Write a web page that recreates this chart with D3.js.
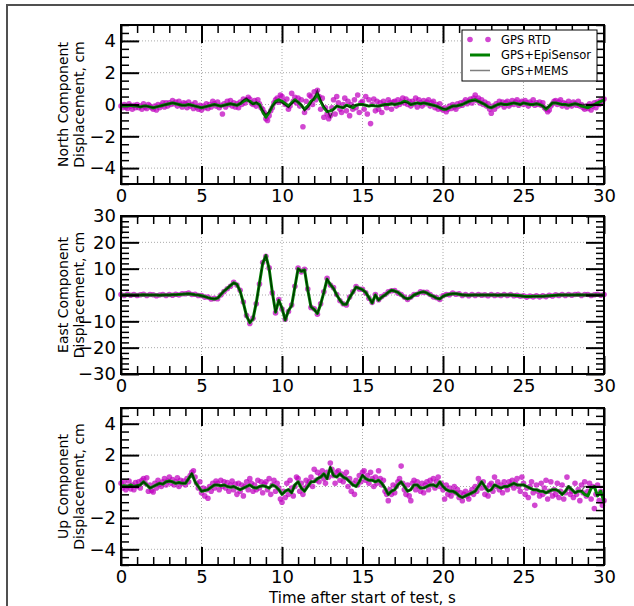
<!DOCTYPE html>
<html>
<head>
<meta charset="utf-8">
<script src="https://cdn.jsdelivr.net/npm/d3@7"></script>
<style>
  body { margin: 0; background: #fff; }
  svg text { font-family: 'DejaVu Sans', sans-serif; fill: #000; }
</style>
</head>
<body>
<div id="chart"></div>
<script>
/// data //////////////////////////////////
// lines sampled every 0.2 s, RTD dots every 0.1 s (north, up) or 0.2 s (east)
const northEpi = [
  -0.1,-0.1,-0.1,-0.05,-0.1, -0.1,-0.15,-0.1,-0.1,-0.15, -0.2,-0.15,-0.1,-0.05,0.0,
  0.05,0.1,0.05,0.0,-0.05, -0.05,0.0,-0.05,-0.1,-0.15, -0.2,-0.15,-0.1,-0.05,0.0,
  -0.05,-0.1,-0.05,0.0,0.05, 0.0,-0.05,0.05,0.2,0.3, 0.2,0.05,0.1,0.0,-0.45,
  -0.8,-0.5,-0.1,0.2,0.3, 0.2,0.05,-0.1,0.1,0.3, 0.15,-0.05,-0.3,-0.1,0.2,
  0.35,0.65,0.2,-0.2,-0.45, -0.4,-0.3,-0.1,-0.15,-0.2, -0.05,-0.1,-0.2,-0.05,0.0,
  0.0,-0.05,-0.1,-0.05,-0.1, -0.1,-0.05,0.0,0.0,0.05, 0.0,0.05,0.1,0.2,0.15,
  0.0,0.05,0.1,0.05,0.1, 0.05,0.0,-0.05,-0.1,-0.2, -0.3,-0.3,-0.2,-0.1,-0.1,
  -0.05,0.0,0.1,0.2,0.25, 0.3,0.2,0.1,0.0,-0.15, -0.2,-0.1,0.0,0.05,0.0,
  0.0,0.05,0.1,0.05,0.0, 0.1,0.05,0.0,0.0,0.05, 0.0,-0.1,-0.3,-0.1,0.1,
  0.1,0.05,0.0,0.0,-0.05, 0.0,0.05,0.0,-0.1,-0.15, -0.2,-0.1,0.0,0.1,0.2,
  0.3
]
const northMems = [
  0,0,0,0,-0.05, -0.1,-0.15,-0.1,-0.1,-0.15, -0.2,-0.15,-0.1,-0.05,0.0,
  0.05,0.1,0.05,0.0,-0.05, -0.05,0.0,-0.05,-0.1,-0.15, -0.2,-0.15,-0.1,-0.05,0.0,
  -0.05,-0.1,-0.05,0.0,0.05, 0.0,-0.05,0.05,0.3,0.4, 0.15,0.0,0.15,-0.05,-0.35,
  -0.6,-0.45,-0.1,0.1,0.15, 0.1,-0.05,-0.2,0.05,0.25, 0.15,0.0,-0.4,-0.2,0.05,
  0.45,0.9,0.3,-0.1,-0.35, -0.8,-0.3,-0.1,-0.15,-0.2, -0.05,-0.2,0.0,-0.05,0.0,
  0.0,-0.05,-0.1,-0.05,-0.1, -0.1,-0.05,0.0,0.0,0.05, 0.0,0.05,0.1,0.15,0.1,
  0.0,0.05,0.1,0.05,0.1, 0.05,0.0,-0.05,-0.1,-0.2, -0.25,-0.3,-0.2,-0.1,-0.1,
  -0.05,0.0,0.1,0.2,0.25, 0.25,0.2,0.1,0.0,-0.15, -0.2,-0.1,0.0,0.05,0.0,
  0.0,0.05,0.1,0.05,0.0, 0.1,0.05,0.0,0.0,0.05, 0.0,-0.1,-0.25,-0.1,0.1,
  0.1,0.05,0.0,0.0,-0.05, 0.0,0.05,0.0,0.0,0.0, 0,0,0,0,0,
  0
]
const northRtd = [
  -0.1,-0.2,0.0,-0.15,-0.25,0.05,-0.1,-0.3,-0.05,-0.2,
  0.0,-0.2,-0.1,-0.3,0.05,-0.15,-0.25,0.0,-0.1,-0.2,
  -0.3,-0.1,-0.35,0.0,-0.2,-0.05,0.1,-0.15,0.1,-0.1,
  0.1,0.0,0.25,0.05,0.15,-0.1,0.2,0.0,-0.15,0.1,
  0.05,-0.2,0.15,-0.1,0.0,-0.25,0.1,-0.15,-0.3,-0.05,
  -0.35,-0.1,-0.2,0.05,-0.25,0.0,-0.15,0.2,0.05,-0.1,
  0.15,-0.2,-0.05,-0.6,0.05,-0.15,0.2,0.0,0.25,-0.1,
  0.1,-0.15,0.05,-0.2,0.15,0.0,0.35,0.1,0.3,0.45,
  0.35,0.1,0.0,0.25,-0.1,0.3,0.05,-0.2,-0.3,-0.5,
  -0.9,-1.0,-0.7,-0.4,-0.2,0.1,0.3,0.4,0.15,0.6,
  0.5,0.2,0.0,0.35,-0.3,-0.1,0.7,0.2,0.45,0.1,
  0.4,-0.1,0.3,-1.4,-0.5,0.2,-0.2,0.6,0.5,0.0,
  0.8,0.3,0.9,0.5,-0.3,0.4,-0.8,-0.2,-0.6,-0.9,
  -0.7,-0.2,0.3,-0.6,0.5,0.1,-0.3,-0.5,0.0,0.4,
  -0.4,0.2,-0.7,0.0,-0.3,0.3,-0.2,0.6,-0.5,0.1,
  0.2,-0.3,0.5,-0.6,0.3,-1.2,0.0,0.35,-0.4,0.2,
  -0.3,0.1,-0.5,0.2,0.0,-0.2,0.3,0.1,-0.3,0.15,
  0.2,-0.1,0.3,0.0,0.15,0.4,0.1,0.35,0.0,0.2,
  -0.1,0.2,0.05,0.4,-0.15,0.3,0.1,-0.1,0.25,0.05,
  0.15,0.3,-0.1,0.1,0.2,-0.2,0.0,-0.3,0.05,-0.25,
  -0.35,-0.2,-0.45,-0.3,-0.1,-0.25,0.0,-0.15,-0.3,0.05,
  -0.1,0.1,-0.05,0.15,0.3,0.05,0.2,0.35,0.1,0.4,
  0.6,0.25,0.4,0.1,0.3,0.0,0.15,-0.1,0.05,-0.3,
  -0.55,-0.1,-0.3,0.05,-0.1,0.2,0.0,0.15,-0.15,0.1,
  0.2,-0.1,0.05,0.25,0.0,0.15,0.3,-0.05,0.1,0.2,
  0.0,0.25,0.1,-0.1,0.15,0.05,0.3,-0.05,0.1,0.0,
  0.15,-0.05,0.1,-0.2,-0.3,-0.45,-0.35,-0.1,0.05,0.2,
  0.25,0.0,0.15,0.3,-0.1,0.1,0.05,-0.15,0.2,0.0,
  -0.1,0.15,0.05,-0.05,0.2,-0.1,0.0,-0.2,-0.3,-0.1,
  -0.25,0.05,-0.35,-0.1,0.1,-0.2,0.15,0.0,0.25,0.1,
  0.35
]

const eastEpi = [
  0,0,0.1,0,0, 0,0,0.1,0,0, 0,0,-0.1,0,0,
  0,0.1,0.1,0.2,0.3, 0.4,0.5,0.3,0.1,0, -0.3,-0.6,-1.0,-1.3,-1.5,
  -1.2,0.2,1.5,2.5,3.6, 4.6,4.0,1.5,-3.0,-8.0, -10.5,-9.0,-3.0,4.5,12.0,
  15.0,10.0,1.0,-6.5,-2.0, -5.0,-9.5,-6.0,-4.0,3.0, 10.0,9.0,9.5,2.0,-4.5,
  -5.5,-7.0,-3.5,1.0,6.0, 4.0,2.5,0.0,-2.0,-3.5, -3.5,-1.0,1.0,3.0,2.5,
  2.0,1.0,-1.0,-3.0,0.0, -2.0,-0.8,0.0,1.0,1.8, 1.5,1.0,0.0,-1.0,-1.5,
  -1.0,0.0,0.5,1.0,1.2, 0.8,0.0,-0.5,-1.2,-1.5, -0.5,0.0,0.3,0.5,0.5,
  0.3,0.0,0.0,-0.1,0.0, 0,0,0,0,0, 0,0,-0.1,0,0,
  0,0,-0.1,-0.2,-0.3, -0.5,-0.6,-0.6,-0.5,-0.5, -0.5,-0.5,-0.4,-0.3,-0.2,
  -0.1,0,0,0,0, 0,0,0.1,0,0, 0,0,0,0,0,
  0
]
const eastMems = [
  0,0,0.1,0,0, 0,0,0.1,0,0, 0,0,-0.1,0,0,
  0,0.1,0.1,0.2,0.3, 0.4,0.5,0.3,0.1,0, -0.3,-0.6,-1.0,-1.3,-1.5,
  -1.2,0.2,1.5,2.5,3.7, 4.6,4.0,1.4,-3.1,-8.0, -10.4,-9.0,-3.0,4.4,12.1,
  14.9,10.0,1.0,-6.6,-2.0, -5.1,-9.4,-6.0,-4.0,3.1, 10.0,9.0,9.4,2.0,-4.5,
  -5.5,-7.0,-3.4,1.0,6.1, 4.0,2.5,0.0,-2.0,-3.5, -3.5,-1.0,1.0,3.0,2.5,
  2.0,1.0,-1.0,-3.0,0.0, -2.0,-0.8,0.0,1.0,1.8, 1.5,1.0,0.0,-1.0,-1.5,
  -1.0,0.0,0.5,1.0,1.2, 0.8,0.0,-0.5,-1.2,-1.5, -0.5,0.0,0.3,0.5,0.5,
  0.3,0.0,0.0,-0.1,0.0, 0,0,0,0,0, 0,0,-0.1,0,0,
  0,0,-0.1,-0.2,-0.3, -0.5,-0.6,-0.6,-0.5,-0.5, -0.5,-0.5,-0.4,-0.3,-0.2,
  -0.1,0,0,0,0, 0,0,0.1,0,0, 0,0,0,0,0,
  0
]
const eastRtd = [
  0.2,-0.2,0.3,-0.1,0.2, -0.2,0.1,0.3,-0.2,0.2, 0.1,-0.3,0.0,0.2,-0.2,
  0.2,-0.1,0.3,0.0,0.5, 0.5,0.7,0.2,0.3,-0.2, -0.2,-0.8,-0.8,-1.5,-1.3,
  -1.4,0.0,1.3,2.4,3.3, 4.8,3.8,1.8,-2.7,-7.8, -10.8,-8.8,-3.3,4.2,12.3,
  14.7,10.3,0.8,-6.8,-1.7, -5.3,-9.2,-6.3,-3.8,3.3, 10.2,8.8,9.8,2.3,-4.7,
  -5.2,-7.3,-3.3,1.2,6.3, 3.8,2.8,0.2,-2.2,-3.3, -3.8,-0.8,1.2,3.2,2.3,
  2.2,0.8,-1.2,-2.8,0.2, -1.8,-0.6,0.2,1.2,1.6, 1.7,0.8,0.2,-0.8,-1.7,
  -0.8,0.2,0.3,1.2,1.0, 1.0,0.2,-0.7,-1.0,-1.7, -0.3,0.2,0.1,0.7,0.3,
  0.5,-0.2,0.2,-0.3,0.2, -0.2,0.2,-0.1,0.1,-0.3, 0.2,-0.2,0.1,-0.2,0.2,
  -0.2,0.2,-0.3,-0.1,-0.5, -0.3,-0.8,-0.4,-0.7,-0.3, -0.7,-0.3,-0.6,-0.1,-0.4,
  0.1,-0.2,0.2,-0.2,0.2, -0.1,0.2,0.3,-0.2,0.2, 0.2,-0.2,0.1,0.3,-0.1,
  0.2
]

const upEpi = [
  0.0,0.05,0.0,0.1,0.0, 0.05,0.1,0.3,0.1,-0.1, 0.0,0.1,0.2,0.15,0.3,
  0.35,0.3,0.2,0.25,0.2, 0.2,0.5,0.8,0.3,0.0, -0.3,-0.25,-0.2,-0.05,0.1,
  0.1,0.05,0.1,0.0,-0.05, 0.0,-0.1,-0.2,-0.1,0.0, 0.1,-0.05,-0.1,0.0,0.05,
  0.0,-0.1,0.1,0.0,-0.2, -0.5,-0.3,-0.2,-0.4,0.1, 0.3,-0.1,-0.3,0.0,0.3,
  0.3,0.5,0.6,0.8,0.5, 1.2,0.7,0.6,0.8,0.6, 0.5,0.3,0.1,0.0,0.3,
  0.7,0.5,0.4,0.4,0.3, 0.4,0.2,-0.1,-0.5,-0.3, -0.2,0.1,0.3,0.0,-0.3,
  -0.2,0.1,0.1,-0.1,-0.1, 0.0,0.1,0.1,0.0,0.3, 0.0,-0.2,-0.3,-0.3,-0.4,
  -0.6,-0.7,-0.6,-0.5,-0.4, -0.3,0.0,0.3,0.0,-0.3, -0.2,0.1,0.0,-0.1,0.0,
  0.0,0.1,0.2,0.1,0.1, 0.1,0.0,-0.1,-0.2,-0.2, -0.3,-0.3,-0.4,-0.3,-0.2,
  -0.2,-0.3,-0.5,-0.3,0.0, -0.2,-0.4,-0.3,-0.3,-0.5, -0.6,-0.1,0.0,-0.6,-0.3,
  -1.0
]
const upMems = [
  0.0,0.0,0.0,0.05,0.0, 0.05,0.1,0.3,0.1,-0.1, 0.0,0.1,0.2,0.15,0.3,
  0.35,0.3,0.2,0.25,0.2, 0.2,0.5,0.85,0.3,0.0, -0.3,-0.25,-0.2,-0.05,0.1,
  0.1,0.05,0.1,0.0,-0.05, 0.0,-0.1,-0.2,-0.1,0.0, 0.1,-0.05,-0.1,0.0,0.05,
  0.0,-0.1,0.1,0.0,-0.2, -0.5,-0.3,-0.2,-0.4,0.1, 0.3,-0.1,-0.3,0.0,0.3,
  0.3,0.5,0.6,0.8,0.5, 1.25,0.7,0.6,0.8,0.6, 0.5,0.3,0.1,0.0,0.3,
  0.75,0.5,0.4,0.4,0.3, 0.4,0.2,-0.1,-0.5,-0.3, -0.2,0.1,0.3,0.0,-0.3,
  -0.2,0.1,0.1,-0.1,-0.1, 0.0,0.1,0.1,0.0,0.3, 0.0,-0.2,-0.3,-0.3,-0.4,
  -0.6,-0.7,-0.6,-0.5,-0.4, -0.3,0.0,0.3,0.0,-0.3, -0.2,0.1,0.0,-0.1,0.0,
  0.0,0.1,0.2,0.1,0.1, 0.1,0.0,-0.1,-0.2,-0.2, -0.3,-0.3,-0.4,-0.3,-0.2,
  -0.2,-0.3,-0.5,-0.3,0.0, -0.2,-0.4,-0.3,-0.3,0.0, 0,0,0,0,0,
  0
]
const upRtd = [
  0.2,-0.1,0.3,-0.2,0.0,0.35,-0.15,0.1,-0.2,0.25,
  0.0,0.3,-0.1,0.4,0.5,0.2,0.55,-0.3,0.1,-0.25,
  -0.35,0.2,-0.1,0.4,0.15,0.0,0.3,0.5,0.1,0.35,
  0.6,0.2,0.45,0.1,0.3,0.55,0.0,0.4,0.2,0.35,
  0.1,0.5,0.3,0.7,0.9,1.0,0.6,0.2,-0.1,0.3,
  -0.4,-0.1,-0.6,-0.2,-0.75,0.0,-0.3,0.2,-0.1,0.35,
  0.2,-0.2,0.4,0.0,0.3,-0.1,0.25,-0.3,0.1,0.35,
  -0.2,0.15,-0.5,0.2,-0.3,0.1,-0.6,0.0,0.3,-0.2,
  0.5,0.2,-0.3,0.1,-0.2,0.4,-0.1,0.3,-0.4,0.15,
  0.3,-0.2,0.5,-0.5,0.1,0.4,-0.3,0.2,-0.1,-0.8,
  -1.0,-0.3,-0.7,0.2,-0.5,0.4,-0.1,-0.6,0.0,0.6,
  0.5,-0.3,0.2,-0.5,-0.1,0.4,0.1,0.3,0.6,0.0,
  1.1,0.4,0.9,0.3,0.7,1.0,0.5,0.2,0.9,0.6,
  1.5,1.1,0.7,0.2,0.9,1.0,0.4,0.8,0.3,0.6,
  0.9,0.0,0.5,-0.3,0.2,-0.5,0.4,0.1,0.7,0.3,
  0.9,1.0,0.4,0.7,0.2,0.9,0.5,0.0,0.6,0.2,
  1.0,0.5,0.1,0.4,-0.3,-0.5,-0.9,-0.2,-0.5,0.1,
  -0.4,0.0,0.3,0.5,1.3,0.2,-0.2,-0.5,0.1,-0.6,
  -0.9,0.2,0.4,-0.2,0.3,0.0,-0.3,0.2,-0.4,0.1,
  0.3,-0.2,0.4,0.1,0.5,-0.1,0.3,0.6,0.0,0.2,
  -0.2,-0.8,0.1,-0.5,-0.1,-0.6,-0.3,0.0,-0.4,-0.2,
  -0.7,-0.4,-0.9,-0.5,-0.3,-0.6,-0.8,-0.4,-0.2,-0.5,
  0.0,-0.3,0.5,0.2,-0.1,0.3,-0.5,-0.1,-0.6,0.1,
  0.2,-0.3,0.6,0.0,0.3,-0.2,0.1,-0.4,0.3,0.0,
  -0.2,0.3,0.1,0.4,-0.1,0.2,0.5,0.0,-0.3,0.6,
  0.2,-0.5,-0.1,-0.7,0.0,0.3,-0.4,-1.2,0.1,-0.3,
  -0.6,0.2,-0.5,-0.1,0.4,-0.8,-0.3,0.3,-0.6,-0.2,
  -0.5,0.2,-0.7,-0.3,0.1,-0.8,-0.4,0.6,-0.1,-0.5,
  -0.3,-0.7,0.2,-0.5,-0.2,-0.9,0.1,-0.4,0.3,-0.6,
  -0.3,0.2,-0.8,0.0,-1.4,-0.5,0.1,-0.9,-0.3,-1.2,
  -0.9
]

/// ticks and labels //////////////////////////////////
const xTicks = [0, 5, 10, 15, 20, 25, 30]
const smallYTicks = [-4, -2, 0, 2, 4]
const eastYTicks = [-30, -20, -10, 0, 10, 20, 30]
const legendLabels = ['GPS RTD', 'GPS+EpiSensor', 'GPS+MEMS']
const xLabel = 'Time after start of test, s'

/// colours //////////////////////////////////
const rtdColor = '#bf00bf'
const epiColor = '#008000'
const memsColor = '#000000'

const width = 634
const height = 606
const left = 121
const right = 604

const panels = [
  { lines: ['North Component', 'Displacement, cm'], top: 25, bottom: 184, domain: [-5, 5], ticks: smallYTicks, minor: 0.5, rtd: northRtd, rtdStep: 0.1, epi: northEpi, mems: northMems, legend: true },
  { lines: ['East Component', 'Displacement, cm'], top: 216, bottom: 374, domain: [-30, 30], ticks: eastYTicks, minor: 2, rtd: eastRtd, rtdStep: 0.2, epi: eastEpi, mems: eastMems },
  { lines: ['Up Component', 'Displacement, cm'], top: 408, bottom: 565, domain: [-5, 5], ticks: smallYTicks, minor: 0.5, rtd: upRtd, rtdStep: 0.1, epi: upEpi, mems: upMems }
]

const svg = d3
  .select('#chart')
  .append('svg')
  .attr('width', width)
  .attr('height', height)

// outer figure frame
svg
  .append('rect')
  .attr('x', 7)
  .attr('y', 5)
  .attr('width', 700)
  .attr('height', 700)
  .attr('fill', 'none')
  .attr('stroke', '#505050')
  .attr('stroke-width', 2)

const xScale = d3.scaleLinear().domain([0, 30]).range([left, right])
const xMinor = d3.range(0, 30.001, 1).filter(d => d % 5 !== 0)

panels.forEach(p => {
  const yScale = d3.scaleLinear().domain(p.domain).range([p.bottom, p.top])
  const yMinor = d3
    .range(p.domain[0], p.domain[1] + 0.001, p.minor)
    .filter(d => !p.ticks.includes(d))
  const g = svg.append('g')

  /// grid //////
  g.append('g')
    .selectAll('line')
    .data(xTicks.slice(1, -1))
    .enter()
    .append('line')
    .attr('x1', d => xScale(d))
    .attr('x2', d => xScale(d))
    .attr('y1', p.top)
    .attr('y2', p.bottom)
  g.append('g')
    .selectAll('line')
    .data(p.ticks.filter(d => d > p.domain[0] && d < p.domain[1]))
    .enter()
    .append('line')
    .attr('x1', left)
    .attr('x2', right)
    .attr('y1', d => yScale(d))
    .attr('y2', d => yScale(d))
  g.selectAll('g line')
    .attr('stroke', '#aaaaaa')
    .attr('stroke-width', 1)
    .attr('stroke-dasharray', '1,2')

  /// data //////
  const rtdPts = p.rtd.map((v, i) => ({ t: i * p.rtdStep, v: v }))
  g.append('g')
    .selectAll('circle')
    .data(rtdPts)
    .enter()
    .append('circle')
    .attr('cx', d => xScale(d.t))
    .attr('cy', d => yScale(d.v))
    .attr('r', 2.8)
    .attr('fill', rtdColor)
    .attr('opacity', 0.72)

  const line = d3
    .line()
    .x((d, i) => xScale(i * 0.2))
    .y(d => yScale(d))

  g.append('path')
    .datum(p.epi)
    .attr('d', line)
    .attr('fill', 'none')
    .attr('stroke', epiColor)
    .attr('stroke-width', 3)
    .attr('stroke-linejoin', 'round')

  g.append('path')
    .datum(p.mems)
    .attr('d', line)
    .attr('fill', 'none')
    .attr('stroke', memsColor)
    .attr('stroke-opacity', 0.6)
    .attr('stroke-width', 1.3)

  /// axes //////
  const axes = [
    { axis: d3.axisBottom(xScale), at: `translate(0,${p.bottom})`, labels: true },
    { axis: d3.axisTop(xScale), at: `translate(0,${p.top})`, labels: false },
    { axis: d3.axisLeft(yScale), at: `translate(${left},0)`, labels: true, y: true },
    { axis: d3.axisRight(yScale), at: `translate(${right},0)`, labels: false, y: true }
  ]
  axes.forEach(a => {
    const major = a.axis
      .tickValues(a.y ? p.ticks : xTicks)
      .tickSizeInner(-18)
      .tickSizeOuter(0)
      .tickPadding(5)
      .tickFormat(a.labels ? d3.format('') : '')
    g.append('g')
      .attr('transform', a.at)
      .call(major)
      .call(s => s.select('.domain').remove())
      .call(s => s.selectAll('line').attr('stroke-width', 2))
      .call(s =>
        s.selectAll('text')
          .attr('font-size', 18)
          .attr('font-family', 'DejaVu Sans, sans-serif')
      )
    const minorAxis = a.axis
      .tickValues(a.y ? yMinor : xMinor)
      .tickSizeInner(-8)
      .tickFormat('')
    g.append('g')
      .attr('transform', a.at)
      .call(minorAxis)
      .call(s => s.select('.domain').remove())
      .call(s => s.selectAll('line').attr('stroke-width', 1.5))
  })

  // frame
  g.append('rect')
    .attr('x', left)
    .attr('y', p.top)
    .attr('width', right - left)
    .attr('height', p.bottom - p.top)
    .attr('fill', 'none')
    .attr('stroke', '#000')
    .attr('stroke-width', 2)

  /// y label //////
  const cy = (p.top + p.bottom) / 2
  p.lines.forEach((t, i) => {
    svg
      .append('text')
      .attr('transform', `translate(${68 + i * 16},${cy}) rotate(-90)`)
      .attr('text-anchor', 'middle')
      .attr('font-size', 14)
      .text(t)
  })

  /// legend //////
  if (p.legend) {
    const lg = svg.append('g').attr('transform', 'translate(462,30)')
    lg.append('rect')
      .attr('width', 135)
      .attr('height', 51)
      .attr('fill', '#fff')
      .attr('stroke', '#000')
      .attr('stroke-width', 1)
    const rowY = [9.5, 25, 40.5]
    lg.selectAll('circle')
      .data([8, 26])
      .enter()
      .append('circle')
      .attr('cx', d => d)
      .attr('cy', rowY[0])
      .attr('r', 2.8)
      .attr('fill', rtdColor)
      .attr('opacity', 0.72)
    lg.append('line')
      .attr('x1', 8).attr('x2', 28)
      .attr('y1', rowY[1]).attr('y2', rowY[1])
      .attr('stroke', epiColor)
      .attr('stroke-width', 3)
    lg.append('line')
      .attr('x1', 8).attr('x2', 28)
      .attr('y1', rowY[2]).attr('y2', rowY[2])
      .attr('stroke', memsColor)
      .attr('stroke-opacity', 0.5)
      .attr('stroke-width', 1.5)
    lg.selectAll('text')
      .data(legendLabels)
      .enter()
      .append('text')
      .attr('x', 39)
      .attr('y', (d, i) => rowY[i])
      .attr('dy', '0.36em')
      .attr('font-size', 11.5)
      .text(d => d)
  }
})

/// x label //////
svg
  .append('text')
  .attr('x', (left + right) / 2)
  .attr('y', 603)
  .attr('text-anchor', 'middle')
  .attr('font-size', 15)
  .text(xLabel)
</script>
</body>
</html>
